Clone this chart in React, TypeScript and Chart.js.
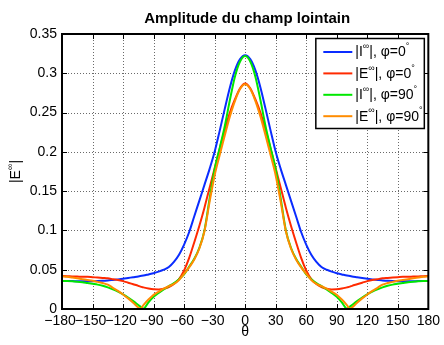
import React, { useEffect, useRef } from "react";
import { Chart, registerables } from "chart.js";

Chart.register(...registerables);

// θ (degrees)
const THETA = [
  -180, -175, -170, -165, -160, -155, -150, -145, -140, -135, -130, -125, -120, -115, -110, -105, -103,
  -100, -95, -90, -85, -80, -75, -70, -65, -60, -55, -50, -45, -40, -35, -30, -25, -20, -15, -10, -5,
  0,
  5, 10, 15, 20, 25, 30, 35, 40, 45, 50, 55, 60, 65, 70, 75, 80, 85, 90, 95, 100,
  103, 105, 110, 115, 120, 125, 130, 135, 140, 145, 150, 155, 160, 165, 170, 175, 180,
];

// |I∞|, φ=0°
const I_PHI0 = [
  0.0357, 0.0356, 0.0355, 0.0353, 0.0352, 0.0352, 0.0353, 0.0355, 0.0358, 0.0363, 0.037, 0.0377, 0.0385, 0.0395, 0.0405, 0.0415, 0.042,
  0.0425, 0.044, 0.0455, 0.0475, 0.05, 0.0535, 0.06, 0.069, 0.082, 0.098, 0.118, 0.138, 0.158, 0.178, 0.2, 0.227, 0.255, 0.282, 0.304, 0.318,
  0.323,
  0.318, 0.304, 0.282, 0.255, 0.227, 0.2, 0.178, 0.158, 0.138, 0.118, 0.098, 0.082, 0.069, 0.06, 0.0535, 0.05, 0.0475, 0.0455, 0.044, 0.0425,
  0.042, 0.0415, 0.0405, 0.0395, 0.0385, 0.0377, 0.037, 0.0363, 0.0358, 0.0355, 0.0353, 0.0352, 0.0352, 0.0353, 0.0355, 0.0356, 0.0357,
];

// |E∞|, φ=0°
const E_PHI0 = [
  0.042, 0.0418, 0.0415, 0.0413, 0.041, 0.041, 0.0405, 0.04, 0.0395, 0.039, 0.038, 0.037, 0.0355, 0.0335, 0.0315, 0.0295, 0.0285,
  0.0275, 0.026, 0.025, 0.0248, 0.0258, 0.028, 0.032, 0.038, 0.049, 0.065, 0.085, 0.106, 0.129, 0.154, 0.179, 0.204, 0.228, 0.25, 0.267, 0.281,
  0.287,
  0.281, 0.267, 0.25, 0.228, 0.204, 0.179, 0.154, 0.129, 0.106, 0.085, 0.065, 0.049, 0.038, 0.032, 0.028, 0.0258, 0.0248, 0.025, 0.026, 0.0275,
  0.0285, 0.0295, 0.0315, 0.0335, 0.0355, 0.037, 0.038, 0.039, 0.0395, 0.04, 0.0405, 0.041, 0.041, 0.0413, 0.0415, 0.0418, 0.042,
];

// |I∞|, φ=90°
const I_PHI90 = [
  0.0357, 0.0355, 0.0352, 0.0347, 0.034, 0.033, 0.032, 0.031, 0.0295, 0.0275, 0.025, 0.022, 0.0185, 0.0145, 0.01, 0.005, 0.003,
  0.0005, 0.0085, 0.0155, 0.0205, 0.025, 0.029, 0.033, 0.038, 0.044, 0.054, 0.064, 0.078, 0.1, 0.14, 0.178, 0.205, 0.233, 0.266, 0.296, 0.315,
  0.322,
  0.315, 0.296, 0.266, 0.233, 0.205, 0.178, 0.14, 0.1, 0.078, 0.064, 0.054, 0.044, 0.038, 0.033, 0.029, 0.025, 0.0205, 0.0155, 0.0085, 0.0005,
  0.003, 0.005, 0.01, 0.0145, 0.0185, 0.022, 0.025, 0.0275, 0.0295, 0.031, 0.032, 0.033, 0.034, 0.0347, 0.0352, 0.0355, 0.0357,
];

// |E∞|, φ=90°
const E_PHI90 = [
  0.0415, 0.041, 0.04, 0.039, 0.038, 0.037, 0.036, 0.0345, 0.033, 0.031, 0.027, 0.023, 0.0185, 0.0135, 0.008, 0.002, 0.0003,
  0.005, 0.012, 0.018, 0.022, 0.026, 0.029, 0.032, 0.037, 0.045, 0.053, 0.063, 0.077, 0.099, 0.136, 0.17, 0.196, 0.221, 0.245, 0.265, 0.28,
  0.286,
  0.28, 0.265, 0.245, 0.221, 0.196, 0.17, 0.136, 0.099, 0.077, 0.063, 0.053, 0.045, 0.037, 0.032, 0.029, 0.026, 0.022, 0.018, 0.012, 0.005,
  0.0003, 0.002, 0.008, 0.0135, 0.0185, 0.023, 0.027, 0.031, 0.033, 0.0345, 0.036, 0.037, 0.038, 0.039, 0.04, 0.041, 0.0415,
];

const X_TICKS = [-180, -150, -120, -90, -60, -30, 0, 30, 60, 90, 120, 150, 180];
const Y_TICKS = [0, 0.05, 0.1, 0.15, 0.2, 0.25, 0.3, 0.35];

const TITLE = "Amplitude du champ lointain";
const X_LABEL = "θ";
const Y_LABEL = [
  { t: "|E", sup: false },
  { t: "∞", sup: true },
  { t: "|", sup: false },
];

const SERIES_NAMES = [
  [{ t: "|I", sup: false }, { t: "∞", sup: true }, { t: "|, φ=0", sup: false }, { t: "°", sup: true }],
  [{ t: "|E", sup: false }, { t: "∞", sup: true }, { t: "|, φ=0", sup: false }, { t: "°", sup: true }],
  [{ t: "|I", sup: false }, { t: "∞", sup: true }, { t: "|, φ=90", sup: false }, { t: "°", sup: true }],
  [{ t: "|E", sup: false }, { t: "∞", sup: true }, { t: "|, φ=90", sup: false }, { t: "°", sup: true }],
];
const SERIES_VALUES = [I_PHI0, E_PHI0, I_PHI90, E_PHI90];
const COLORS = ["#0a2cff", "#ff2a00", "#00e800", "#ff8c00"];

const FONT = '"Liberation Sans", Arial, Helvetica, sans-serif';

type Seg = { t: string; sup: boolean };

function drawRich(ctx: CanvasRenderingContext2D, segs: Seg[], x: number, y: number, size: number) {
  let cx = x;
  for (const s of segs) {
    if (s.sup) {
      ctx.font = `${Math.round(size * 0.65)}px ${FONT}`;
      ctx.fillText(s.t, cx, y - size * 0.42);
    } else {
      ctx.font = `${size}px ${FONT}`;
      ctx.fillText(s.t, cx, y);
    }
    cx += ctx.measureText(s.t).width;
  }
  return cx - x;
}

function measureRich(ctx: CanvasRenderingContext2D, segs: Seg[], size: number) {
  let w = 0;
  for (const s of segs) {
    ctx.font = s.sup ? `${Math.round(size * 0.65)}px ${FONT}` : `${size}px ${FONT}`;
    w += ctx.measureText(s.t).width;
  }
  return w;
}

const decoPlugin = {
  id: "matlabDeco",
  beforeDatasetsDraw(chart: any) {
    const { ctx, chartArea: a, scales } = chart;
    const x = scales.x;
    const y = scales.y;
    ctx.save();
    ctx.strokeStyle = "#6a6a6a";
    ctx.lineWidth = 1;
    ctx.setLineDash([1, 2]);
    ctx.beginPath();
    for (const t of X_TICKS) {
      const px = Math.round(x.getPixelForValue(t)) + 0.5;
      if (px <= a.left + 2 || px >= a.right - 2) continue;
      ctx.moveTo(px, a.top);
      ctx.lineTo(px, a.bottom);
    }
    for (const t of Y_TICKS) {
      const py = Math.round(y.getPixelForValue(t)) + 0.5;
      if (py <= a.top + 2 || py >= a.bottom - 2) continue;
      ctx.moveTo(a.left, py);
      ctx.lineTo(a.right, py);
    }
    ctx.stroke();
    ctx.restore();
  },
  afterDatasetsDraw(chart: any) {
    const { ctx, chartArea: a, scales } = chart;
    const x = scales.x;
    const y = scales.y;
    ctx.save();
    // inward ticks
    ctx.strokeStyle = "#000";
    ctx.lineWidth = 1;
    ctx.beginPath();
    const tl = 5;
    for (const t of X_TICKS) {
      const px = Math.round(x.getPixelForValue(t)) + 0.5;
      ctx.moveTo(px, a.bottom);
      ctx.lineTo(px, a.bottom - tl);
      ctx.moveTo(px, a.top);
      ctx.lineTo(px, a.top + tl);
    }
    for (const t of Y_TICKS) {
      const py = Math.round(y.getPixelForValue(t)) + 0.5;
      ctx.moveTo(a.left, py);
      ctx.lineTo(a.left + tl, py);
      ctx.moveTo(a.right, py);
      ctx.lineTo(a.right - tl, py);
    }
    ctx.stroke();
    // box
    ctx.lineWidth = 2;
    ctx.strokeRect(a.left, a.top, a.right - a.left, a.bottom - a.top);

    // legend
    const lx = a.right - 112.5;
    const ly = a.top + 4.5;
    const lw = 108.5;
    const lh = 90;
    ctx.fillStyle = "#fff";
    ctx.fillRect(lx, ly, lw, lh);
    ctx.lineWidth = 1.5;
    ctx.strokeStyle = "#000";
    ctx.strokeRect(lx, ly, lw, lh);
    SERIES_NAMES.forEach((segs, i) => {
      const cy = ly + 13.5 + i * 21.4;
      ctx.strokeStyle = COLORS[i];
      ctx.lineWidth = 2;
      ctx.beginPath();
      ctx.moveTo(lx + 7.5, cy);
      ctx.lineTo(lx + 36.5, cy);
      ctx.stroke();
      ctx.fillStyle = "#000";
      ctx.textAlign = "left";
      ctx.textBaseline = "middle";
      drawRich(ctx, segs, lx + 39.5, cy + 0.5, 14);
    });
    ctx.restore();
  },
  afterDraw(chart: any) {
    const { ctx, chartArea: a } = chart;
    ctx.save();
    ctx.fillStyle = "#000";
    // title
    ctx.font = `bold 15px ${FONT}`;
    ctx.textAlign = "center";
    ctx.textBaseline = "alphabetic";
    ctx.fillText(TITLE, (a.left + a.right) / 2 + 2, 22.5);
    // x label
    ctx.font = `14px ${FONT}`;
    ctx.textBaseline = "middle";
    ctx.fillText(X_LABEL, (a.left + a.right) / 2, 332);
    // y label (rotated)
    ctx.translate(16.5, (a.top + a.bottom) / 2);
    ctx.rotate(-Math.PI / 2);
    const w = measureRich(ctx, Y_LABEL, 14);
    ctx.textAlign = "left";
    ctx.textBaseline = "middle";
    drawRich(ctx, Y_LABEL, -w / 2, 0, 14);
    ctx.restore();
  },
};

export default function App() {
  const ref = useRef<HTMLCanvasElement | null>(null);

  useEffect(() => {
    if (!ref.current) return;
    const datasets = SERIES_VALUES.map((vals, i) => ({
      label: SERIES_NAMES[i].map((s) => s.t).join(""),
      data: THETA.map((t, k) => ({ x: t, y: vals[k] })),
      borderColor: COLORS[i],
      backgroundColor: COLORS[i],
      borderWidth: 2,
      pointRadius: 0,
      fill: false,
      cubicInterpolationMode: "monotone" as const,
      order: 4 - i,
    }));
    const chart = new Chart(ref.current, {
      type: "line",
      data: { datasets },
      options: {
        animation: false,
        responsive: false,
        devicePixelRatio: 1,
        layout: { padding: { left: 0, top: 34, right: 14, bottom: 0 } },
        plugins: {
          legend: { display: false },
          tooltip: { enabled: false },
          title: { display: false },
        },
        scales: {
          x: {
            type: "linear",
            min: -180,
            max: 180,
            grid: { display: false, drawTicks: false },
            border: { display: false },
            afterBuildTicks: (scale: any) => {
              scale.ticks = X_TICKS.map((v) => ({ value: v }));
            },
            afterFit: (scale: any) => {
              scale.height = 36;
            },
            ticks: {
              autoSkip: false,
              maxRotation: 0,
              padding: 4,
              color: "#000",
              font: { family: FONT, size: 14 },
              callback: (v: any) => (Number(v) < 0 ? "\u2212" + Math.abs(Number(v)) + " " : String(v)),
            },
          },
          y: {
            type: "linear",
            min: 0,
            max: 0.35,
            grid: { display: false, drawTicks: false },
            border: { display: false },
            afterBuildTicks: (scale: any) => {
              scale.ticks = Y_TICKS.map((v) => ({ value: v }));
            },
            afterFit: (scale: any) => {
              scale.width = 62;
            },
            ticks: {
              autoSkip: false,
              padding: 5,
              color: "#000",
              font: { family: FONT, size: 14 },
              callback: (v: any) => {
                const n = Number(Number(v).toFixed(2));
                return n === 0 ? "0" : String(n);
              },
            },
          },
        },
      },
      plugins: [decoPlugin],
    });
    return () => chart.destroy();
  }, []);

  return (
    <div style={{ position: "fixed", left: 0, top: 0, width: 444, height: 345, background: "#fff" }}>
      <canvas ref={ref} width={444} height={345} style={{ display: "block", width: 444, height: 345 }} />
    </div>
  );
}
